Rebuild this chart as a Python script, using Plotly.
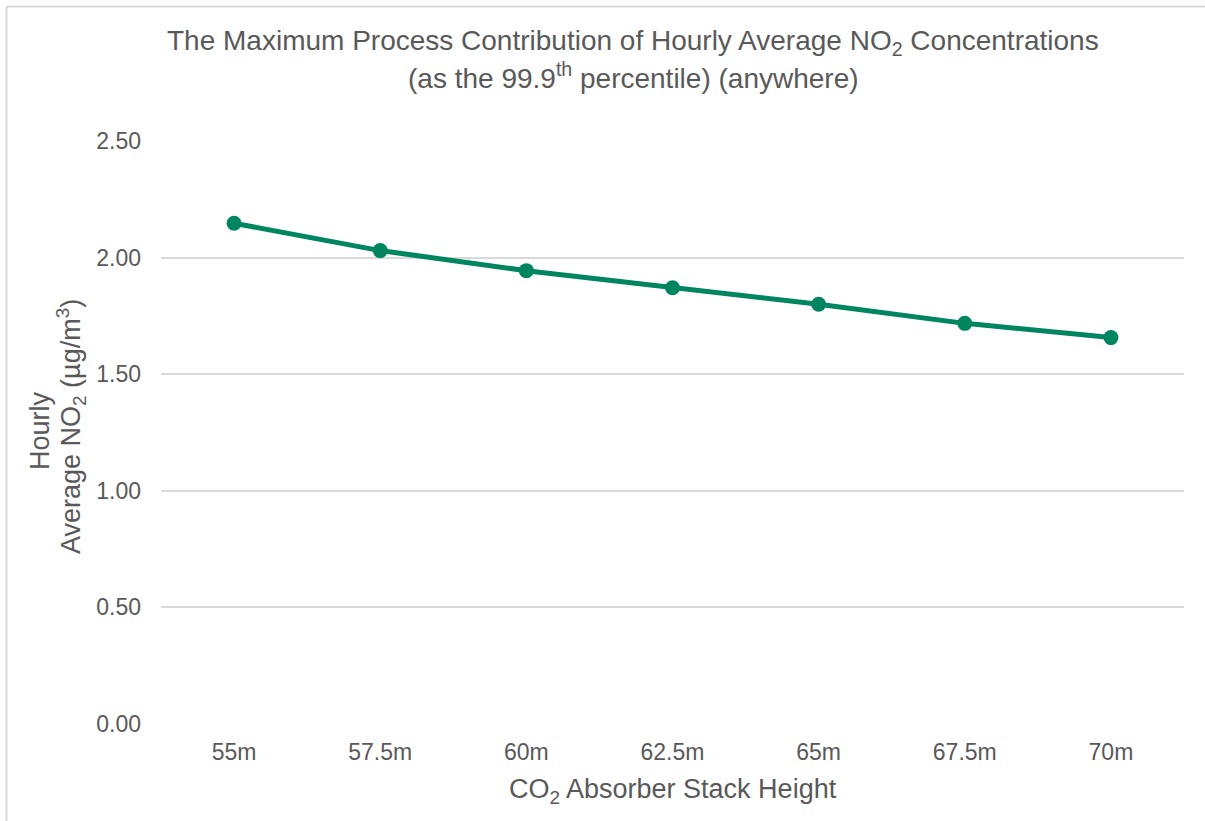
import plotly.graph_objects as go

# Stack heights (categories) and the 99.9th percentile hourly NO2 process contribution
stack_heights = ["55m", "57.5m", "60m", "62.5m", "65m", "67.5m", "70m"]
no2_hourly = [2.147, 2.030, 1.944, 1.871, 1.800, 1.718, 1.657]
y_ticks = [0.0, 0.5, 1.0, 1.5, 2.0, 2.5]

GREEN = "#008561"
TEXT = "#595959"
GRID = "#d9d9d9"
FONT = "Arial"

W, H = 1205, 821
L, R, T, B = 161, 21, 141, 97
pw, ph = W - L - R, H - T - B


def px_x(x):
    return (x - L) / pw


def px_y(y):
    return (H - B - y) / ph


fig = go.Figure(
    go.Scatter(
        x=stack_heights,
        y=no2_hourly,
        mode="lines+markers",
        line=dict(color=GREEN, width=5),
        marker=dict(color=GREEN, size=15),
        cliponaxis=False,
        hoverinfo="x+y",
    )
)

fig.update_layout(
    width=W,
    height=H,
    margin=dict(l=L, r=R, t=T, b=B),
    paper_bgcolor="white",
    plot_bgcolor="white",
    showlegend=False,
    font=dict(family=FONT, color=TEXT, size=23),
    xaxis=dict(
        type="category",
        range=[-0.5, len(stack_heights) - 0.5],
        showgrid=False,
        showline=False,
        zeroline=False,
        ticks="",
        tickfont=dict(family=FONT, size=23, color=TEXT),
        ticklabelstandoff=12,
    ),
    yaxis=dict(
        range=[0, 2.5],
        tickvals=y_ticks,
        tickformat=".2f",
        showgrid=True,
        gridcolor=GRID,
        gridwidth=1.5,
        zeroline=False,
        showline=False,
        ticks="",
        tickfont=dict(family=FONT, size=23, color=TEXT),
        ticklabelstandoff=19,
    ),
)


def label(text, x, y, size, angle=0):
    return dict(
        text=text, x=px_x(x), y=px_y(y), xref="paper", yref="paper",
        xanchor="center", yanchor="middle", showarrow=False,
        textangle=angle, font=dict(family=FONT, size=size, color=TEXT),
    )


annotations = [
    label("The Maximum Process Contribution of Hourly Average NO<sub>2</sub> Concentrations",
          633, 43, 28),
    label("(as the 99.9<sup>th</sup> percentile) (anywhere)", 633, 76, 28),
    label("CO<sub>2</sub> Absorber Stack Height", L + pw / 2, 791, 27),
    label("Hourly", 40, 431, 27, -90),
    label("Average NO<sub>2</sub> (µg/m<sup>3</sup>)", 71, 427, 27, -90),
]
fig.update_layout(annotations=annotations)

# Chart-area border along the top and left edges
fig.add_shape(type="line", xref="paper", yref="paper",
              x0=px_x(6.5), x1=px_x(W + 5), y0=px_y(6.5), y1=px_y(6.5),
              line=dict(color=GRID, width=2))
fig.add_shape(type="line", xref="paper", yref="paper",
              x0=px_x(6.5), x1=px_x(6.5), y0=px_y(6.5), y1=px_y(H + 5),
              line=dict(color=GRID, width=2))

fig.write_html("out.html")
